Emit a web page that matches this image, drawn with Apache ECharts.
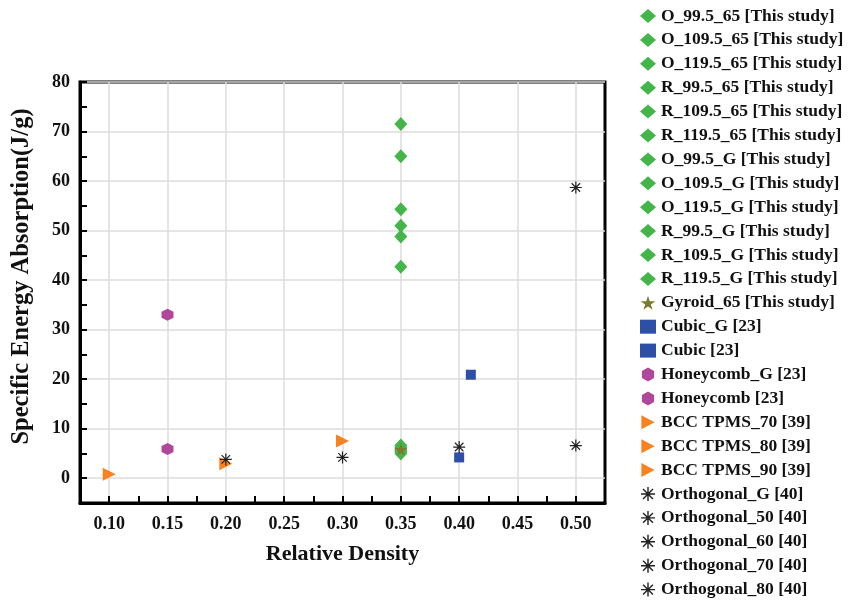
<!DOCTYPE html>
<html>
<head>
<meta charset="utf-8">
<script src="https://cdn.jsdelivr.net/npm/echarts@6/dist/echarts.min.js"></script>
<style>html,body{margin:0;padding:0;background:#fff;}#c{width:850px;height:602px;}</style>
</head>
<body>
<div id="c"></div>
<script>
// ---- data ----
const greenNames = ['O_99.5_65 [This study]','O_109.5_65 [This study]','O_119.5_65 [This study]','R_99.5_65 [This study]','R_109.5_65 [This study]','R_119.5_65 [This study]','O_99.5_G [This study]','O_109.5_G [This study]','O_119.5_G [This study]','R_99.5_G [This study]','R_109.5_G [This study]','R_119.5_G [This study]'];
const greenX = [0.35,0.35,0.35,0.35,0.35,0.35,0.35,0.35,0.35,0.35,0.35,0.35];
const greenY = [71.5,65.0,54.3,51.0,48.8,42.7,6.6,6.2,5.9,5.6,5.3,5.0];
const gyroidNames = ['Gyroid_65 [This study]'];
const gyroidX = [0.35];
const gyroidY = [5.8];
const cubicNames = ['Cubic_G [23]','Cubic [23]'];
const cubicX = [0.41,0.40];
const cubicY = [20.9,4.2];
const honeyNames = ['Honeycomb_G [23]','Honeycomb [23]'];
const honeyX = [0.15,0.15];
const honeyY = [33.0,5.9];
const bccNames = ['BCC TPMS_70 [39]','BCC TPMS_80 [39]','BCC TPMS_90 [39]'];
const bccX = [0.10,0.20,0.30];
const bccY = [0.8,2.9,7.5];
const orthoNames = ['Orthogonal_G [40]','Orthogonal_50 [40]','Orthogonal_60 [40]','Orthogonal_70 [40]','Orthogonal_80 [40]'];
const orthoX = [0.20,0.30,0.40,0.50,0.50];
const orthoY = [3.8,4.2,6.3,6.6,58.7];

// ---- symbols ----
const STAR = 'path://M0,-10L2.245,-3.09L9.51,-3.09L3.633,1.18L5.878,8.09L0,3.82L-5.878,8.09L-3.633,1.18L-9.51,-3.09L-2.245,-3.09Z';
const HEX = 'path://M0,-10L8.66,-5L8.66,5L0,10L-8.66,5L-8.66,-5Z';
const TRI = 'path://M-8,-9L9,0L-8,9Z';
const AST = 'path://M-1,-10L1,-10L1,10L-1,10ZM-10,-1L10,-1L10,1L-10,1ZM-6.36,-7.78L7.78,6.36L6.36,7.78L-7.78,-6.36ZM-7.78,6.36L6.36,-7.78L7.78,-6.36L-6.36,7.78Z';

const series = [];
function add(names, xs, ys, symbol, size, color) {
  names.forEach((n, i) => {
    series.push({
      name: n, type: 'scatter', symbol: symbol, symbolSize: size,
      itemStyle: { color: color, opacity: 1 },
      data: [[xs[i], ys[i]]], z: 3
    });
  });
}
add(greenNames, greenX, greenY, 'diamond', [13, 14], '#43b549');
add(gyroidNames, gyroidX, gyroidY, STAR, 13, '#7a7a30');
add(cubicNames, cubicX, cubicY, 'rect', 10, '#2e4fa8');
add(honeyNames, honeyX, honeyY, HEX, 12, '#b0479b');
add(bccNames, bccX, bccY, TRI, 13, '#f7821f');
add(orthoNames, orthoX, orthoY, AST, 12, '#222222');

const font = 'Liberation Serif';
const chart = echarts.init(document.getElementById('c'));
chart.setOption({
  backgroundColor: '#fff',
  animation: false,
  grid: { left: 80, right: 245, top: 82, bottom: 99, show: true, borderColor: '#000', borderWidth: 3, backgroundColor: '#fff' },
  legend: {
    orient: 'vertical', left: 640, top: 7, height: 640, padding: 0, itemWidth: 16, itemHeight: 14, itemGap: 5.9,
    textStyle: { fontFamily: font, fontWeight: 'bold', fontSize: 17.5, color: '#111' },
    data: series.map(s => s.name)
  },
  xAxis: {
    type: 'value', min: 0.075, max: 0.525, interval: 0.025,
    name: 'Relative Density', nameLocation: 'middle', nameGap: 40,
    nameTextStyle: { fontFamily: font, fontWeight: 'bold', fontSize: 22, color: '#111' },
    axisLine: { show: true, onZero: false, lineStyle: { color: '#000', width: 3 } },
    axisTick: { show: true, inside: true, length: 7, lineStyle: { color: '#000', width: 2 } },
    axisLabel: {
      margin: 12, fontFamily: font, fontWeight: 'bold', fontSize: 18, color: '#111',
      formatter: v => { const r = Math.round(v * 1000); return (r % 50 === 0 && r >= 100 && r <= 500) ? (r / 1000).toFixed(2) : ''; }
    },
    splitLine: { show: true, lineStyle: { color: ['rgba(0,0,0,0)', '#dcdcdc'], width: 1.5 } }
  },
  yAxis: {
    type: 'value', min: -5, max: 80, interval: 5,
    name: 'Specific Energy Absorption(J/g)', nameLocation: 'middle', nameGap: 46,
    nameTextStyle: { fontFamily: font, fontWeight: 'bold', fontSize: 24.5, color: '#111', padding: [0, 0, 0, 32] },
    axisLine: { show: true, onZero: false, lineStyle: { color: '#000', width: 3 } },
    axisTick: { show: true, inside: true, length: 7, lineStyle: { color: '#000', width: 2 } },
    axisLabel: {
      margin: 10, fontFamily: font, fontWeight: 'bold', fontSize: 18, color: '#111',
      formatter: v => (v >= 0 && Math.round(v) % 10 === 0) ? String(Math.round(v)) : ''
    },
    splitLine: { show: true, lineStyle: { color: ['rgba(0,0,0,0)', '#dcdcdc'], width: 1.5 } }
  },
  series: series
});
</script>
</body>
</html>
